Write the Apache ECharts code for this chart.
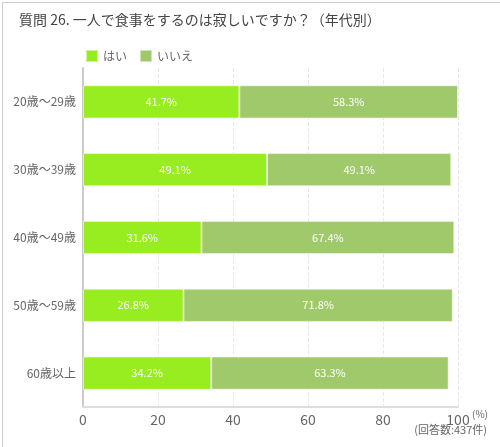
<!DOCTYPE html>
<html><head><meta charset="utf-8">
<script src="https://cdn.jsdelivr.net/npm/echarts@6/dist/echarts.min.js"></script>
<style>html,body{margin:0;padding:0;background:#fff}#c{width:500px;height:447px}</style>
</head><body><div id="c"></div>
<script>
var categories = ['20歳～29歳','30歳～39歳','40歳～49歳','50歳～59歳','60歳以上'];
var yesValues = [41.7, 49.1, 31.6, 26.8, 34.2];
var noValues = [58.3, 49.1, 67.4, 71.8, 63.3];
var xTicks = [0, 20, 40, 60, 80, 100];
var seriesNames = ['はい','いいえ'];
var font = '"Noto Sans CJK JP", "Noto Sans", sans-serif';
var chart = echarts.init(document.getElementById('c'));
var lbl = {show:true, position:'inside', color:'#fff', fontSize:11, fontFamily:font, formatter:function(p){return p.value.toFixed(1)+'%';}};
chart.setOption({
  animation:false,
  textStyle:{fontFamily:font},
  title:{text:'質問 26. 一人で食事をするのは寂しいですか？（年代別）', left:14, top:8, textStyle:{fontSize:14, fontWeight:'normal', color:'#444', fontFamily:font}},
  legend:{left:80, top:44, itemWidth:12, itemHeight:12, itemGap:12, icon:'rect', textStyle:{fontSize:12, color:'#666', fontFamily:font}, data:seriesNames},
  grid:{left:83, right:42, top:68, bottom:40},
  xAxis:{type:'value', min:0, max:100, interval:20,
    axisLine:{show:true, lineStyle:{color:'#ddd', width:2}},
    axisTick:{show:false},
    splitLine:{show:true, lineStyle:{color:'#e8e8e8', type:'dashed'}},
    axisLabel:{color:'#666', fontSize:14, margin:6, fontFamily:font, formatter:function(v){return xTicks.indexOf(v)>=0?String(v):'';}}},
  yAxis:{type:'category', inverse:true, data:categories,
    axisLine:{show:true, lineStyle:{color:'#ccc', width:2}},
    axisTick:{show:false},
    axisLabel:{color:'#666', fontSize:12, margin:7, fontFamily:font}},
  series:[
    {name:seriesNames[0], type:'bar', stack:'s', data:yesValues, barWidth:'49%', itemStyle:{color:'#97ed1f', borderColor:'rgba(255,255,255,0.5)', borderWidth:1}, label:lbl},
    {name:seriesNames[1], type:'bar', stack:'s', data:noValues, itemStyle:{color:'#a0c96c', borderColor:'rgba(255,255,255,0.5)', borderWidth:1}, label:lbl}
  ],
  graphic:[
    {type:'rect', left:0, top:0, shape:{width:499, height:446}, style:{fill:'none', stroke:'#ccc', lineWidth:1}, silent:true, z:-1, position:[0.5,0.5]},
    {type:'text', left:472, top:409, style:{text:'(%)', fill:'#666', fontSize:10, fontFamily:font}},
    {type:'text', right:13, top:424, style:{text:'(回答数:437件)', fill:'#666', fontSize:11, fontFamily:font}}
  ]
});
</script></body></html>
